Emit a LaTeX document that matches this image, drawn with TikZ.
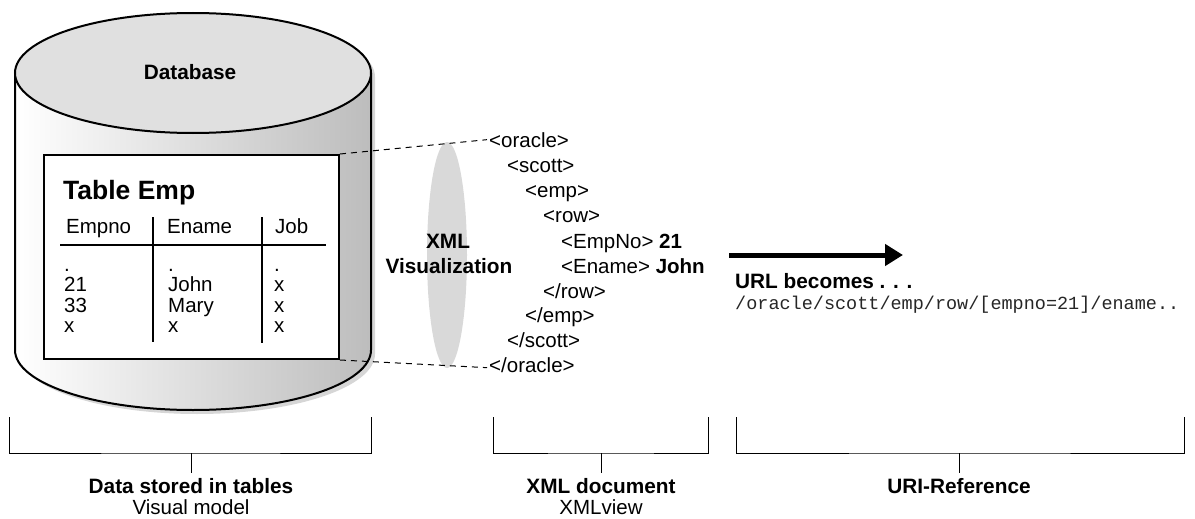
\documentclass[tikz,border=0pt]{standalone}
\usepackage{fontspec}
\setmainfont{Liberation Sans}
\newfontfamily\urlmono{Liberation Mono}
\usetikzlibrary{arrows.meta}
\tikzset{
  txt/.style={inner sep=0pt, font=\fontsize{20.5}{24}\selectfont},
  btxt/.style={inner sep=0pt, font=\fontsize{20.8}{24}\selectfont\bfseries},
  outline/.style={line width=2pt, black},
  tabline/.style={line width=2.4pt, black},
  bracket/.style={line width=1pt, black},
  dashline/.style={line width=1pt, dash pattern=on 6pt off 5pt},
}
\begin{document}
\begin{tikzpicture}[x=1pt, y=-1pt]
\useasboundingbox (0,0) rectangle (1195,519);
% cylinder shadow
\fill[black!16] (19,77) -- (19,354) arc[start angle=180, end angle=0, x radius=178, y radius=60] -- (375,77) arc[start angle=0, end angle=-180, x radius=178, y radius=60] -- cycle;
% cylinder body
\shade[left color=white, middle color=black!4, right color=black!26] (15,73) -- (15,350) arc[start angle=180, end angle=0, x radius=178, y radius=60] -- (371,73) -- cycle;
\draw[outline] (15,73) -- (15,350) arc[start angle=180, end angle=0, x radius=178, y radius=60] -- (371,73);
\draw[outline, fill=black!12] (193,73) ellipse[x radius=178, y radius=60];
\node[btxt, anchor=base] (db) at (190,80) {Database};
% table
\node[draw, outline, fill=white, minimum width=295pt, minimum height=204pt, anchor=north west, inner sep=0pt] (tbl) at (43,154) {};
\node[btxt, font=\fontsize{26.5}{30}\selectfont\bfseries, anchor=base west] (title) at (63,199) {Table Emp};
\node[txt, anchor=base west] (h1) at (66,233) {Empno};
\node[txt, anchor=base west] (h2) at (167,233) {Ename};
\node[txt, anchor=base west] (h3) at (275,233) {Job};
\coordinate (hl1) at (60,245);
\coordinate (hl2) at (326,245);
\draw[tabline] (hl1) -- (hl2);
\coordinate (v1a) at (153,217); \coordinate (v1b) at (153,342);
\coordinate (v2a) at (262,217); \coordinate (v2b) at (262,343);
\draw[tabline] (v1a) -- (v1b);
\draw[tabline] (v2a) -- (v2b);
\foreach \t [count=\i] in {.,21,33,x} \node[txt, anchor=base west] (ca\i) at (64,250.5+20.5*\i) {\t};
\foreach \t [count=\i] in {.,John,Mary,x} \node[txt, anchor=base west] (cb\i) at (168,250.5+20.5*\i) {\t};
\foreach \t [count=\i] in {.,x,x,x} \node[txt, anchor=base west] (cc\i) at (274,250.5+20.5*\i) {\t};
% visualization ellipse
\fill[black!15] (447,255) ellipse[x radius=20, y radius=113];
\node[btxt, anchor=base] (xmlv1) at (448,248) {XML};
\node[btxt, anchor=base] (xmlv2) at (449,273) {Visualization};
% XML document
\node[txt, anchor=base west] (x1) at (489,147) {<oracle>};
\node[txt, anchor=base west] (x2) at (507,172) {<scott>};
\node[txt, anchor=base west] (x3) at (525,197) {<emp>};
\node[txt, anchor=base west] (x4) at (543,222) {<row>};
\node[txt, anchor=base west] (x5) at (561,248) {<EmpNo> \textbf{21}};
\node[txt, anchor=base west] (x6) at (561,273) {<Ename> \textbf{John}};
\node[txt, anchor=base west] (x7) at (543,298) {</row>};
\node[txt, anchor=base west] (x8) at (525,322) {</emp>};
\node[txt, anchor=base west] (x9) at (507,347) {</scott>};
\node[txt, anchor=base west] (x10) at (489,372) {</oracle>};
\draw[dashline] (tbl.north east) -- ([xshift=-2pt]x1.west);
\draw[dashline] (tbl.south east) -- ([xshift=-2pt,yshift=-3pt]x10.west);
% arrow and URL
\coordinate (ar1) at (729,255);
\coordinate (ar2) at (903,255);
\draw[line width=5pt, -{Triangle[length=18pt, width=21pt]}] (ar1) -- (ar2);
\node[btxt, anchor=base west] (urlb) at (735,288) {URL becomes . . .};
\node[inner sep=0pt, text=black!85, font=\urlmono\fontsize{18.5}{20}\selectfont, anchor=base west] (url) at (735,309) {/oracle/scott/emp/row/[empno=21]/ename..};
% brackets
\coordinate (b1l) at (9,417); \coordinate (b1r) at (371,417);
\coordinate (b1s) at (191,453);
\draw[bracket] (b1l) |- (b1s) -| (b1r);
\draw[bracket] (b1s) -- ([yshift=-20pt]b1s);
\node[btxt, anchor=base] (l1a) at (191,493) {Data stored in tables};
\node[txt, anchor=base] (l1b) at (191,514) {Visual model};
\coordinate (b2l) at (493,417); \coordinate (b2r) at (708,417);
\coordinate (b2s) at (601,453);
\draw[bracket] (b2l) |- (b2s) -| (b2r);
\draw[bracket] (b2s) -- ([yshift=-20pt]b2s);
\node[btxt, anchor=base] (l2a) at (601,493) {XML document};
\node[txt, anchor=base] (l2b) at (601,514) {XMLview};
\coordinate (b3l) at (736,417); \coordinate (b3r) at (1184,417);
\coordinate (b3s) at (959,453);
\draw[bracket] (b3l) |- (b3s) -| (b3r);
\draw[bracket] (b3s) -- ([yshift=-20pt]b3s);
\node[btxt, anchor=base] (l3a) at (959,493) {URI-Reference};
\end{tikzpicture}
\end{document}
